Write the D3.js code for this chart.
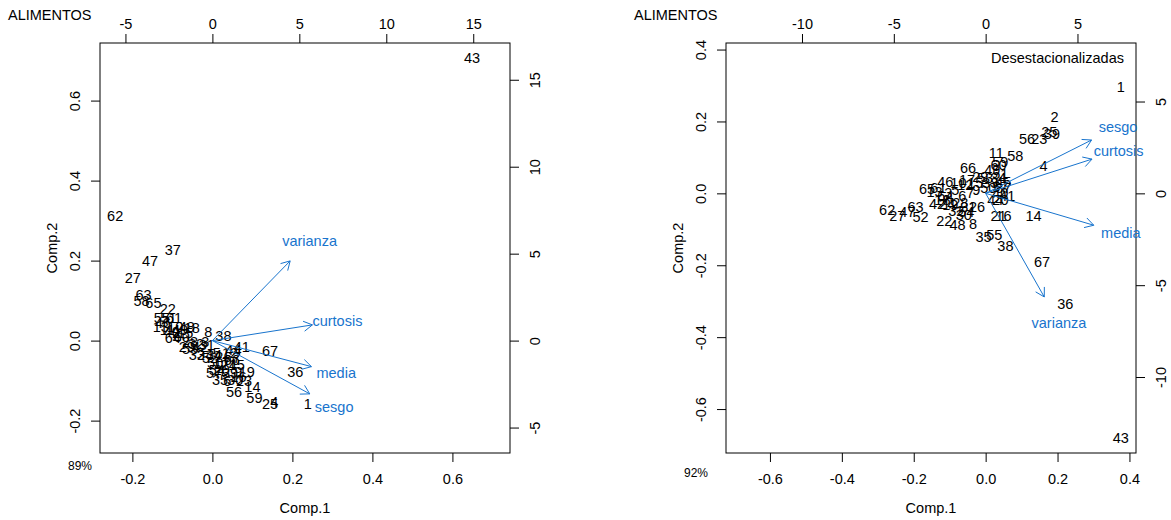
<!DOCTYPE html>
<html><head><meta charset="utf-8">
<script src="https://cdn.jsdelivr.net/npm/d3@7"></script>
<style>
body{margin:0;background:#fff}
svg{display:block}
text{font-family:"Liberation Sans",Arial,Helvetica,sans-serif}
</style>
</head><body>
<svg id="chart" width="1171" height="520"></svg>
<script>
// ---------- data ----------
const obsLabels = d3.range(1, 68).map(String);

// Left biplot (ALIMENTOS) scores
const leftComp1 = [0.2385,-0.091,-0.018,0.155,0.011,0.0375,0.061,-0.010,0.065,-0.093,
  -0.1125,0.044,-0.129,0.100,-0.068,0.065,0.0235,-0.0515,0.086,0.0235,
  0.040,-0.1115,0.079,-0.018,0.144,0.0275,-0.199,-0.056,-0.064,0.057,
  -0.014,-0.041,-0.039,0.004,0.019,0.207,-0.099,0.0275,0.044,-0.1015,
  0.0735,-0.031,0.649,0.0525,0.061,-0.124,-0.156,-0.064,-0.081,0.007,
  -0.110,-0.006,-0.056,0.011,-0.1265,0.054,0.004,-0.177,0.105,-0.0765,
  -0.096,-0.243,-0.172,-0.099,-0.1475,0.0485,0.144];
const leftComp2 = [-0.159,0.0185,-0.0025,-0.154,-0.0315,-0.100,-0.044,0.0225,-0.0775,0.035,
  0.027,-0.0315,0.035,-0.1165,0.0185,-0.090,-0.0565,0.031,-0.0775,-0.073,
  -0.061,0.0785,-0.101,-0.036,-0.159,-0.040,0.156,-0.0025,-0.015,-0.098,
  -0.011,-0.008,-0.036,-0.036,-0.098,-0.0775,0.227,0.0125,-0.080,0.0225,
  -0.015,-0.015,0.706,-0.023,-0.061,0.045,0.199,0.035,0.027,-0.0565,
  0.0575,-0.044,-0.0215,-0.073,0.0575,-0.129,-0.080,0.100,-0.144,0.010,
  0.0575,0.312,0.114,0.006,0.0935,-0.048,-0.026];

// Right biplot (Desestacionalizadas) scores
const rightComp1 = [0.376,0.1917,-0.1036,0.161,-0.0842,-0.0647,-0.0425,-0.035,-0.0258,-0.0758,
  0.0297,-0.0564,-0.142,0.133,-0.0286,0.050,-0.052,-0.1203,-0.0981,0.041,
  0.036,-0.115,0.149,-0.107,0.177,-0.024,-0.246,-0.0703,-0.0147,-0.061,
  -0.0481,-0.0814,0.0131,0.0353,-0.0056,0.2214,0.0492,0.055,0.1844,0.0408,
  0.0603,-0.135,0.376,0.0269,0.0492,-0.112,-0.218,-0.078,0.0186,0.0075,
  0.0408,-0.181,-0.0008,-0.0536,0.024,0.115,0.0408,0.0825,0.0408,0.036,
  -0.1314,-0.274,-0.195,-0.1119,-0.163,-0.049,0.157];
const rightComp2 = [0.2975,0.2125,0.0022,0.077,0.0106,-0.0061,0.0022,-0.084,0.0106,0.030,
  0.1125,0.0244,0.003,-0.062,0.030,-0.062,0.038,-0.0172,-0.0311,-0.019,
  -0.062,-0.0775,0.151,-0.028,0.1725,-0.0375,-0.0635,-0.0256,0.0458,-0.059,
  -0.0367,-0.0478,0.030,0.0439,-0.121,-0.306,0.0161,-0.147,0.165,0.0022,
  -0.0061,-0.028,-0.680,-0.0172,0.0328,0.031,-0.0525,-0.0867,0.0661,0.0161,
  0.055,-0.065,0.0439,-0.0506,-0.1145,0.151,0.0189,0.105,0.0883,0.080,
  0.0161,-0.045,-0.0375,-0.0061,0.0125,0.0725,-0.191];

// Loadings
const variables = ["media", "varianza", "sesgo", "curtosis"];
const leftLoad1 = [7.12, 5.59, 7.00, 7.19];
const leftLoad2 = [-1.87, 5.73, -3.83, 1.13];
const rightLoad1 = [7.36, 3.99, 7.21, 7.24];
const rightLoad2 = [-2.17, -7.05, 3.63, 2.33];

// Tick labels
const leftScoreTicks = [-0.2, 0.0, 0.2, 0.4, 0.6];
const leftLoadTicks = [-5, 0, 5, 10, 15];
const rightScoreTicks = [-0.6, -0.4, -0.2, 0.0, 0.2, 0.4];
const rightLoadTicks = [-10, -5, 0, 5];

const panelTitles = ["ALIMENTOS", "ALIMENTOS"];
const panelNotes = ["", "Desestacionalizadas"];
const varianceShare = ["89%", "92%"];
const axisTitles = ["Comp.1", "Comp.2"];

// ---------- drawing ----------
const svg = d3.select("#chart");
const FS = 14.5;
const ARROW_COL = "#1874CD";
const SIZE = 410, TOP = 43;

function unsignedRange(a) {
  return [-Math.abs(d3.min(a)), Math.abs(d3.max(a))];
}

function drawPanel(p) {
  const x0 = p.left, y0 = TOP, x1 = x0 + SIZE, y1 = y0 + SIZE;
  const g = svg.append("g");

  // R biplot limits: common unsigned range, 4% extension
  const r1 = unsignedRange(p.c1), r2 = unsignedRange(p.c2);
  const lim = [Math.min(r1[0], r2[0]), Math.max(r1[1], r2[1])];
  const ry1 = unsignedRange(p.l1), ry2 = unsignedRange(p.l2);
  const ratio = Math.max(ry1[0] / lim[0], ry1[1] / lim[1], ry2[0] / lim[0], ry2[1] / lim[1]);
  const ext = (lim[1] - lim[0]) * 0.04;
  const dom = [lim[0] - ext, lim[1] + ext];

  const xs = d3.scaleLinear().domain(dom).range([x0, x1]);
  const ys = d3.scaleLinear().domain(dom).range([y1, y0]);
  const xl = d3.scaleLinear().domain(dom.map(v => v * ratio)).range([x0, x1]);
  const yl = d3.scaleLinear().domain(dom.map(v => v * ratio)).range([y1, y0]);

  const fmt1 = v => v.toFixed(1).replace("\u2212", "-");
  const fmt0 = v => String(v);

  function styleAxis(sel, side) {
    sel.select(".domain").remove();
    sel.selectAll(".tick line").attr("stroke", "#000").attr("stroke-width", 1);
    const t = sel.selectAll(".tick text")
      .attr("fill", "#000").style("font-size", FS + "px")
      .attr("font-family", null);
    if (side === "bottom") t.attr("y", 26).attr("dy", "0.36em");
    if (side === "top") t.attr("y", -19.5).attr("dy", "0.36em");
    if (side === "left") t.attr("x", null).attr("y", null).attr("dy", "0.36em")
      .attr("text-anchor", "middle").attr("transform", "translate(-25,0) rotate(-90)");
    if (side === "right") t.attr("x", null).attr("y", null).attr("dy", "0.36em")
      .attr("text-anchor", "middle").attr("transform", "translate(24.5,0) rotate(-90)");
  }

  g.append("g").attr("transform", `translate(0,${y1})`)
    .call(d3.axisBottom(xs).tickValues(p.sTicks).tickFormat(fmt1).tickSize(9))
    .call(s => styleAxis(s, "bottom"));
  g.append("g").attr("transform", `translate(${x0},0)`)
    .call(d3.axisLeft(ys).tickValues(p.sTicks).tickFormat(fmt1).tickSize(9))
    .call(s => styleAxis(s, "left"));
  g.append("g").attr("transform", `translate(0,${y0})`)
    .call(d3.axisTop(xl).tickValues(p.lTicks).tickFormat(fmt0).tickSize(9))
    .call(s => styleAxis(s, "top"));
  g.append("g").attr("transform", `translate(${x1},0)`)
    .call(d3.axisRight(yl).tickValues(p.lTicks).tickFormat(fmt0).tickSize(9))
    .call(s => styleAxis(s, "right"));

  g.append("rect").attr("x", x0).attr("y", y0).attr("width", SIZE).attr("height", SIZE)
    .attr("fill", "none").attr("stroke", "#000").attr("stroke-width", 1);

  // observation labels
  const obs = p.labels.map((l, i) => ({l, a: p.c1[i], b: p.c2[i]}));
  g.append("g").selectAll("text").data(obs).join("text")
    .attr("x", d => xs(d.a)).attr("y", d => ys(d.b)).attr("dy", "0.36em")
    .attr("text-anchor", "middle").style("font-size", FS + "px").attr("fill", "#000")
    .text(d => d.l);

  // loadings arrows
  const vars = variables.map((v, i) => ({v, a: p.l1[i], b: p.l2[i]}));
  const ag = g.append("g").attr("stroke", ARROW_COL).attr("stroke-width", 1).attr("fill", "none");
  vars.forEach(d => {
    const sx = xl(0), sy = yl(0);
    const ex = xl(d.a * 0.8), ey = yl(d.b * 0.8);
    ag.append("line").attr("x1", sx).attr("y1", sy).attr("x2", ex).attr("y2", ey);
    const ang = Math.atan2(ey - sy, ex - sx);
    const L = 10, w = Math.PI / 6;
    const path = d3.path();
    path.moveTo(ex - L * Math.cos(ang - w), ey - L * Math.sin(ang - w));
    path.lineTo(ex, ey);
    path.lineTo(ex - L * Math.cos(ang + w), ey - L * Math.sin(ang + w));
    ag.append("path").attr("d", path.toString());
  });
  g.append("g").selectAll("text").data(vars).join("text")
    .attr("x", d => xl(d.a)).attr("y", d => yl(d.b)).attr("dy", "0.36em")
    .attr("text-anchor", "middle").style("font-size", FS + "px").attr("fill", ARROW_COL)
    .text(d => d.v);

  // titles
  g.append("text").attr("x", (x0 + x1) / 2).attr("y", 508).attr("dy", "0.36em")
    .attr("text-anchor", "middle").style("font-size", FS + "px").text(axisTitles[0]);
  g.append("text").attr("transform", `translate(${x0 - 48},${(y0 + y1) / 2}) rotate(-90)`)
    .attr("dy", "0.36em").attr("text-anchor", "middle").style("font-size", FS + "px").text(axisTitles[1]);
  g.append("text").attr("x", x0 - 92).attr("y", 15).attr("dy", "0.36em")
    .style("font-size", FS + "px").text(p.title);
  if (p.note) g.append("text").attr("x", x1 - 12).attr("y", 58).attr("dy", "0.36em")
    .attr("text-anchor", "end").style("font-size", FS + "px").text(p.note);
  g.append("text").attr("x", p.pctX).attr("y", p.pctY).attr("dy", "0.36em")
    .attr("text-anchor", "middle").style("font-size", "12px").text(p.pct);
}

drawPanel({left: 100, labels: obsLabels, c1: leftComp1, c2: leftComp2,
  l1: leftLoad1, l2: leftLoad2, sTicks: leftScoreTicks, lTicks: leftLoadTicks,
  title: panelTitles[0], note: panelNotes[0], pct: varianceShare[0], pctX: 80, pctY: 466});
drawPanel({left: 726, labels: obsLabels, c1: rightComp1, c2: rightComp2,
  l1: rightLoad1, l2: rightLoad2, sTicks: rightScoreTicks, lTicks: rightLoadTicks,
  title: panelTitles[1], note: panelNotes[1], pct: varianceShare[1], pctX: 696, pctY: 473});
</script>
</body></html>
